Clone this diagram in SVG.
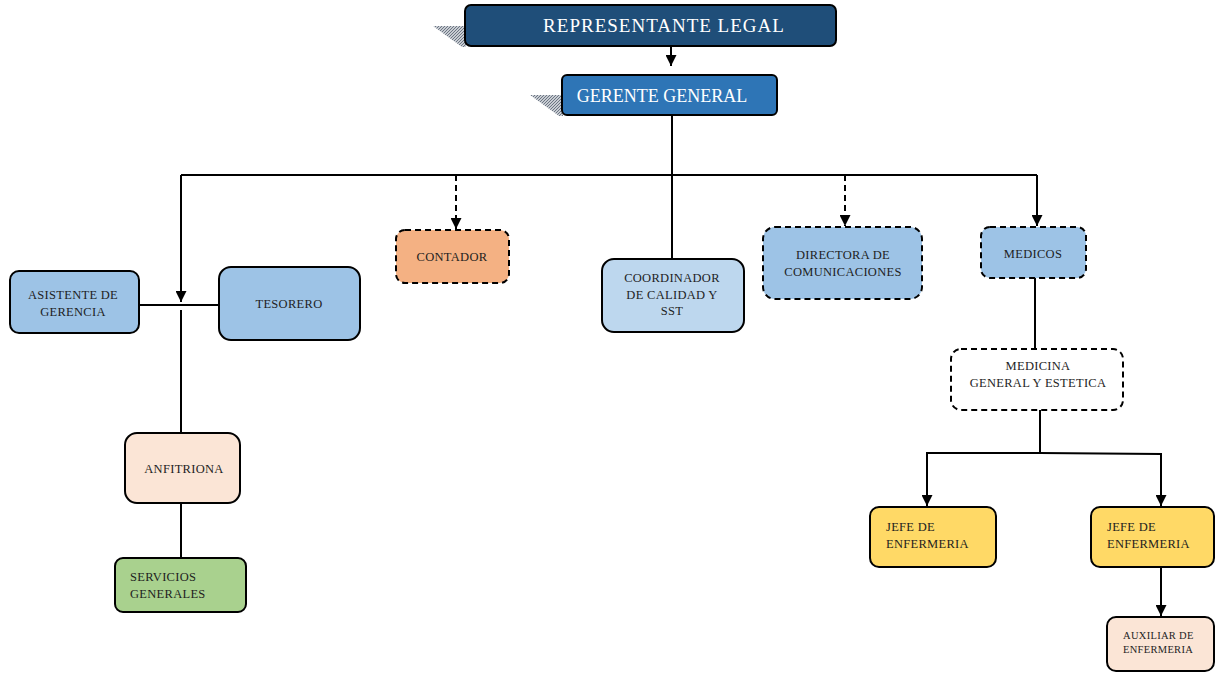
<svg xmlns="http://www.w3.org/2000/svg" width="1215" height="673" viewBox="0 0 1215 673">
<defs>
<pattern id="hatch" width="3" height="3" patternUnits="userSpaceOnUse">
<rect width="3" height="3" fill="#c8ccd2"/>
<path d="M0,3 L3,0" stroke="#6b7583" stroke-width="1"/>
</pattern>
<marker id="arr" viewBox="0 0 10 10" refX="10" refY="5" markerWidth="11" markerHeight="11" markerUnits="userSpaceOnUse" orient="auto">
<path d="M0,0 L10,5 L0,10 z" fill="#000"/>
</marker>
</defs>
<style>
.box{stroke:#000;stroke-width:2}
.dash{stroke-dasharray:6 4}
.t{font-family:"Liberation Serif",serif;font-size:12.5px;fill:#1e1e1e;letter-spacing:0.3px}
.c{text-anchor:middle}
.w{fill:#fff;font-size:18px;letter-spacing:0}
.ln{fill:none;stroke:#000;stroke-width:2}
</style>
<g id="connectors">
<line class="ln" x1="671" y1="46" x2="671" y2="66" marker-end="url(#arr)"/>
<line class="ln" x1="672" y1="115" x2="672" y2="260"/>
<line class="ln" x1="181" y1="175" x2="1037" y2="175"/>
<line class="ln" x1="181" y1="175" x2="181" y2="302" marker-end="url(#arr)"/>
<line class="ln" x1="139" y1="305" x2="219" y2="305"/>
<line class="ln" x1="181" y1="310" x2="181" y2="433"/>
<line class="ln" x1="181" y1="503" x2="181" y2="558"/>
<line class="ln dash" x1="456" y1="175" x2="456" y2="229" marker-end="url(#arr)"/>
<line class="ln dash" x1="845" y1="175" x2="845" y2="226" marker-end="url(#arr)"/>
<line class="ln" x1="1037" y1="175" x2="1037" y2="226" marker-end="url(#arr)"/>
<line class="ln" x1="1035" y1="278" x2="1035" y2="349"/>
<polyline class="ln" points="1040,410 1040,453 927,453 927,506" marker-end="url(#arr)"/>
<polyline class="ln" points="1040,453 1161,454 1161,506" marker-end="url(#arr)"/>
<line class="ln" x1="1161" y1="567" x2="1161" y2="616" marker-end="url(#arr)"/>
</g>
<g id="representante">
<polygon points="433,26 466,26 466,47 462,47" fill="url(#hatch)"/>
<rect class="box" x="465" y="5" width="371" height="41" rx="6" fill="#1f4e79"/>
<text class="t c w" x="664" y="32" style="font-size:19px;letter-spacing:1px">REPRESENTANTE LEGAL</text>
</g>
<g id="gerente">
<polygon points="530,95 563,95 563,116 559,116" fill="url(#hatch)"/>
<rect class="box" x="562" y="75" width="215" height="40" rx="5" fill="#2e75b6"/>
<text class="t c w" x="662" y="102">GERENTE GENERAL</text>
</g>
<g id="asistente">
<rect class="box" x="10" y="271" width="129" height="62" rx="9" fill="#9dc3e6"/>
<text class="t c" x="73" y="299">ASISTENTE DE</text>
<text class="t c" x="73" y="316">GERENCIA</text>
</g>
<g id="tesorero">
<rect class="box" x="219" y="267" width="141" height="73" rx="12" fill="#9dc3e6"/>
<text class="t c" x="289" y="308">TESORERO</text>
</g>
<g id="contador">
<rect class="box dash" x="396" y="230" width="113" height="53" rx="9" fill="#f4b183"/>
<text class="t c" x="452" y="261">CONTADOR</text>
</g>
<g id="coordinador">
<rect class="box" x="602" y="259" width="142" height="73" rx="12" fill="#bdd7ee"/>
<text class="t c" x="672" y="282">COORDINADOR</text>
<text class="t c" x="672" y="299">DE CALIDAD Y</text>
<text class="t c" x="672" y="315">SST</text>
</g>
<g id="directora">
<rect class="box dash" x="763" y="227" width="159" height="72" rx="12" fill="#9dc3e6"/>
<text class="t c" x="843" y="259">DIRECTORA DE</text>
<text class="t c" x="843" y="276">COMUNICACIONES</text>
</g>
<g id="medicos">
<rect class="box dash" x="981" y="227" width="105" height="51" rx="9" fill="#9dc3e6"/>
<text class="t c" x="1033" y="258">MEDICOS</text>
</g>
<g id="medicina">
<rect class="box dash" x="951" y="349" width="172" height="61" rx="10" fill="#fff"/>
<text class="t c" x="1038" y="370">MEDICINA</text>
<text class="t c" x="1038" y="387">GENERAL Y ESTETICA</text>
</g>
<g id="jefe1">
<rect class="box" x="870" y="507" width="126" height="60" rx="9" fill="#ffd966"/>
<text class="t" x="886" y="531">JEFE DE</text>
<text class="t" x="886" y="548">ENFERMERIA</text>
</g>
<g id="jefe2">
<rect class="box" x="1091" y="507" width="123" height="60" rx="9" fill="#ffd966"/>
<text class="t" x="1107" y="531">JEFE DE</text>
<text class="t" x="1107" y="548">ENFERMERIA</text>
</g>
<g id="auxiliar">
<rect class="box" x="1107" y="617" width="107" height="54" rx="9" fill="#fbe5d6"/>
<text class="t" x="1123" y="639" style="font-size:10.5px">AUXILIAR  DE</text>
<text class="t" x="1123" y="653" style="font-size:10.5px">ENFERMERIA</text>
</g>
<g id="anfitriona">
<rect class="box" x="125" y="433" width="115" height="70" rx="12" fill="#fbe5d6"/>
<text class="t c" x="184" y="473">ANFITRIONA</text>
</g>
<g id="servicios">
<rect class="box" x="115" y="558" width="131" height="54" rx="8" fill="#a9d18e"/>
<text class="t" x="130" y="581">SERVICIOS</text>
<text class="t" x="130" y="598">GENERALES</text>
</g>
</svg>
